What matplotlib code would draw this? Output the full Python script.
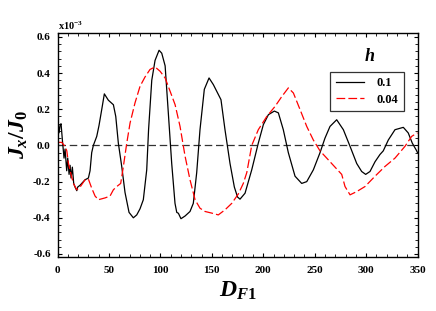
import numpy as np
import matplotlib
matplotlib.use('Agg')
import matplotlib.pyplot as plt
from matplotlib.ticker import MultipleLocator

plt.rcParams['font.family'] = 'Liberation Serif'
plt.rcParams['font.weight'] = 'bold'
plt.rcParams['mathtext.fontset'] = 'custom'
plt.rcParams['mathtext.it'] = 'Liberation Serif:italic:bold'
plt.rcParams['mathtext.rm'] = 'Liberation Serif:bold'
plt.rcParams['mathtext.bf'] = 'Liberation Serif:bold'

# h = 0.1 (black solid), values in units of 1e-3
x_h1 = [0.2, 1.5, 2.4, 3.4, 4.7, 6.3, 7.3, 8.9, 9.9, 11.2, 12.2, 13.1, 14.4, 15.7, 17, 18.7, 19.6,
        21.9, 26.7, 30, 31.6, 33.2, 34.8, 38.1, 40.3, 43, 45.5, 49.4, 54.3, 56.6, 59.1, 62.4, 65.6,
        69.5, 73.7, 77, 80.2, 83.4, 86.7, 88.5, 91.6, 94.8, 98.7, 101.3, 104.6, 107.7, 111, 114.2,
        115.9, 117.5, 120, 124, 128.8, 132, 135.3, 138.5, 142.7, 147.3, 151.5, 158.9, 162.8, 167.7,
        171.9, 175, 177.4, 182.3, 188.8, 195.2, 200.1, 205, 210.8, 214.7, 219.5, 224.4, 230.9,
        237.4, 242.3, 248.7, 255.2, 260, 264.9, 271.4, 277.9, 284.4, 290.9, 295.7, 299.6, 303.8,
        308.7, 313.5, 316.7, 321.6, 328.1, 336.2, 341, 344.9, 349.2, 350]
y_h1 = [0.14, 0.07, 0.11, 0.12, 0.03, -0.07, -0.02, -0.14, -0.07, -0.16, -0.11, -0.18, -0.12, -0.21,
        -0.23, -0.25, -0.23, -0.22, -0.19, -0.18, -0.14, -0.04, 0.0, 0.05, 0.11, 0.2, 0.285, 0.25,
        0.225, 0.16, 0.013, -0.116, -0.26, -0.37, -0.40, -0.384, -0.35, -0.30, -0.135, 0.087, 0.36,
        0.47, 0.526, 0.51, 0.44, 0.18, -0.1, -0.32, -0.37, -0.375, -0.405, -0.39, -0.365, -0.32,
        -0.15, 0.087, 0.31, 0.373, 0.336, 0.253, 0.087, -0.1, -0.23, -0.285, -0.297, -0.264,
        -0.135, 0.013, 0.115, 0.17, 0.19, 0.18, 0.087, -0.04, -0.17, -0.21, -0.2, -0.135, -0.04,
        0.04, 0.105, 0.142, 0.087, -0.005, -0.1, -0.144, -0.16, -0.144, -0.09, -0.05, -0.03, 0.03,
        0.087, 0.10, 0.069, 0.013, -0.03, -0.04]

# h = 0.04 (red dashed)
x_h2 = [0, 4, 7.3, 9, 10.5, 13.1, 15.4, 18.7, 21.9, 26.7, 30, 33.2, 36.5, 39.7, 46.2, 51, 54.3, 57.6,
        61.4, 64, 67.3, 70.5, 75.3, 80.2, 85, 89.9, 94.8, 99.7, 104.6, 109.4, 114.3, 119.1, 124,
        128.8, 133.7, 138.5, 143.4, 149.9, 156.3, 162.8, 169.4, 175.8, 180.6, 184, 188.8, 195.2,
        203.4, 211.5, 218, 224.4, 229.3, 235.8, 242.3, 248.7, 255.2, 261.7, 271.4, 276.3, 279.5,
        284.4, 290.9, 299, 308.7, 318.4, 328.1, 337.8, 344.3, 350]
y_h2 = [0.017, 0.017, -0.005, -0.03, -0.096, -0.16, -0.21, -0.245, -0.23, -0.19, -0.186, -0.236,
        -0.28, -0.30, -0.29, -0.28, -0.245, -0.227, -0.21, -0.116, 0.013, 0.124, 0.235, 0.327, 0.378,
        0.42, 0.434, 0.41, 0.373, 0.3, 0.225, 0.105, -0.06, -0.19, -0.30, -0.347, -0.365, -0.374,
        -0.384, -0.356, -0.32, -0.268, -0.21, -0.15, 0.0, 0.087, 0.16, 0.216, 0.27, 0.318, 0.29,
        0.198, 0.105, 0.03, -0.03, -0.07, -0.13, -0.16, -0.227, -0.273, -0.255, -0.227, -0.17,
        -0.116, -0.07, -0.005, 0.05, 0.07]

fig = plt.figure(figsize=(4.36, 3.11), dpi=100)
ax = fig.add_axes([0.132, 0.1746, 0.8256, 0.7184])

ax.axhline(0, color='#333333', lw=0.9, dashes=(6, 3))
ax.plot(x_h1, y_h1, color='black', lw=0.9, label='0.1')
ax.plot(x_h2, y_h2, color='red', lw=0.9, dashes=(7, 2.5), label='0.04')

ax.set_xlim(0, 350)
ax.set_ylim(-0.615, 0.62)
ax.xaxis.set_major_locator(MultipleLocator(50))
ax.xaxis.set_minor_locator(MultipleLocator(10))
ax.yaxis.set_major_locator(MultipleLocator(0.2))
ax.yaxis.set_minor_locator(MultipleLocator(0.04))
ax.yaxis.set_major_formatter(plt.FuncFormatter(lambda v, p: '%.1f' % v))
ax.tick_params(which='both', direction='in', top=True, right=True, labelsize=8)
ax.tick_params(which='major', length=3.2, width=0.8)
ax.tick_params(which='minor', length=2, width=0.6)
ax.tick_params(axis='x', pad=7)
ax.tick_params(axis='y', pad=5)
for s in ax.spines.values():
    s.set_linewidth(1.0)

ax.set_xlabel(r'$D_{F\mathrm{1}}$', fontsize=17, labelpad=3)
ax.set_ylabel(r'$J_x/J_\mathrm{0}$', fontsize=17)
ax.yaxis.set_label_coords(-0.076, 0.545)
ax.text(0.0, 1.005, r'x10$^{-3}$', transform=ax.transAxes, fontsize=7.5, va='bottom', ha='left')

leg = ax.legend(loc='upper left', bbox_to_anchor=(0.757, 0.828), fontsize=9,
                handlelength=2.3, handletextpad=1.0, frameon=True, fancybox=False,
                borderaxespad=0, borderpad=0.45, labelspacing=0.34)
leg.get_frame().set_edgecolor('black')
leg.get_frame().set_linewidth(0.9)
ax.text(0.868, 0.895, r'$h$', transform=ax.transAxes, fontsize=13, ha='center', va='center')

fig.savefig('out.png', dpi=100)
